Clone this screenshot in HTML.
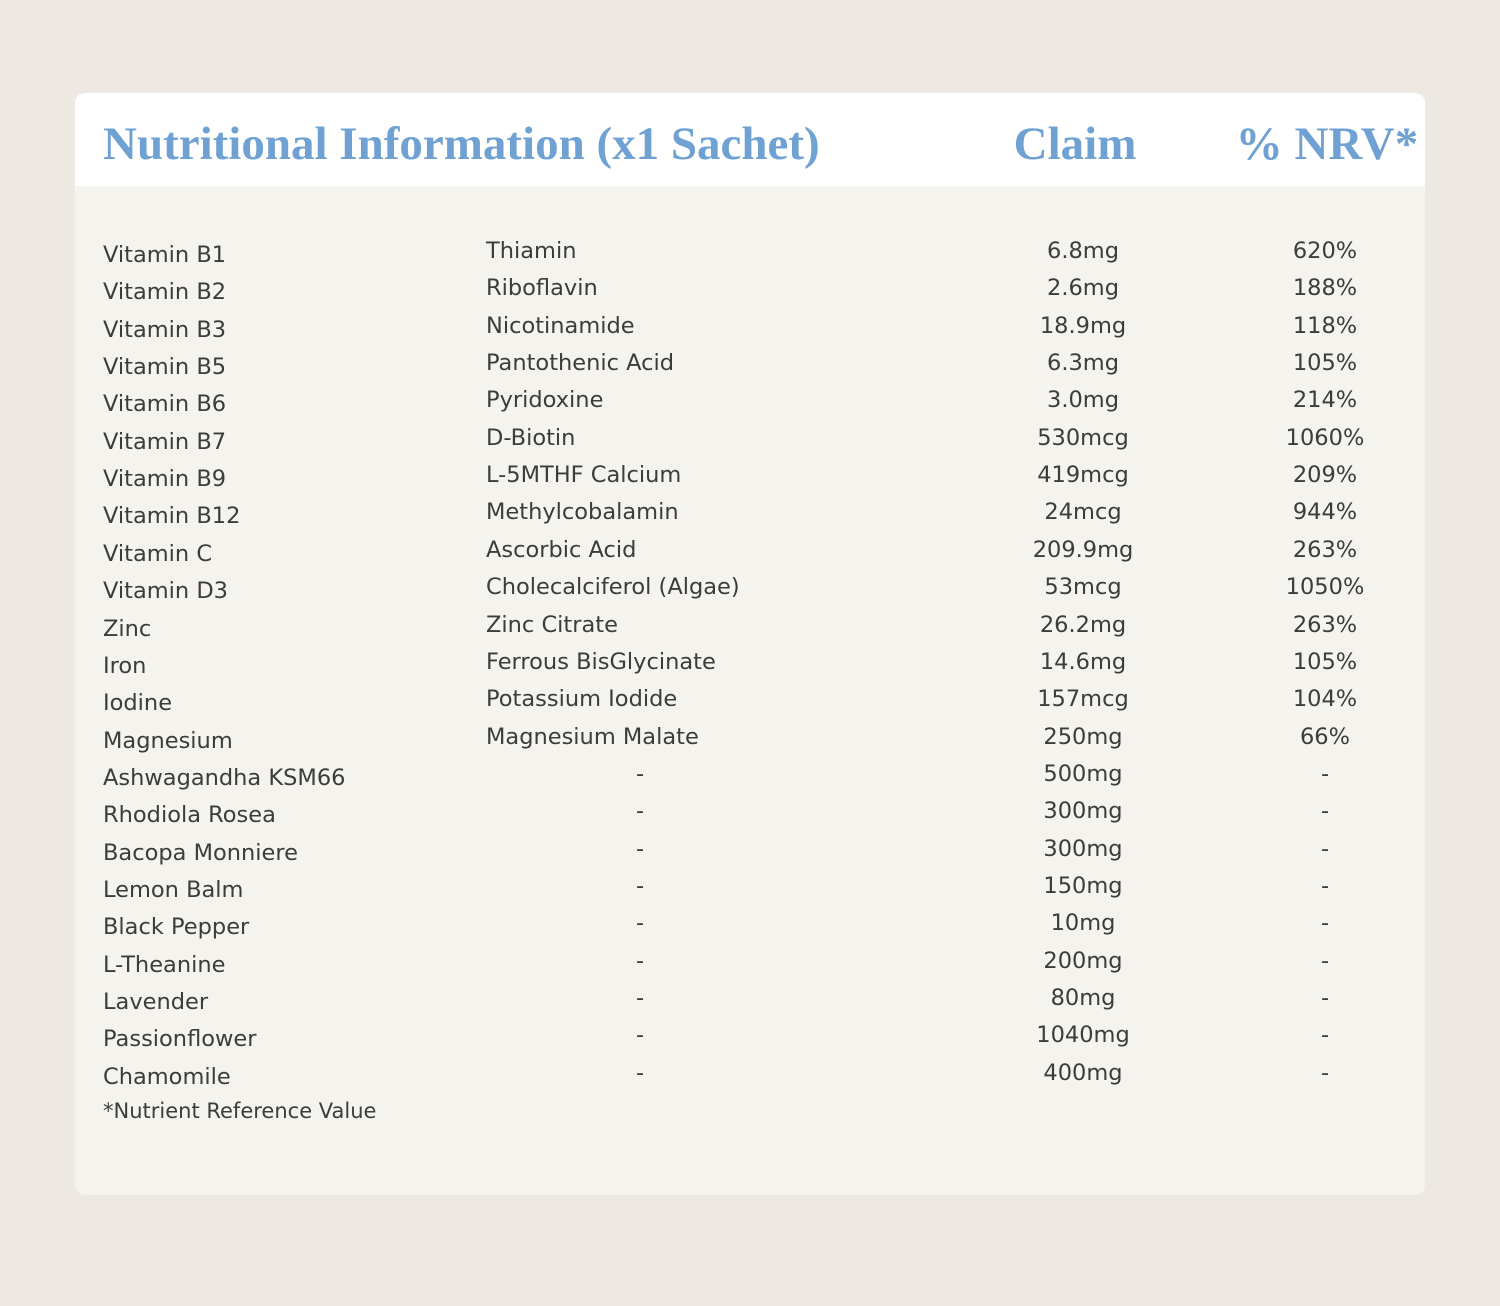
<!DOCTYPE html>
<html><head><meta charset="utf-8"><style>
body{margin:0;width:1500px;height:1306px;background:#ede9e2;position:relative;font-family:"DejaVu Sans","Liberation Sans",sans-serif;color:#3c3c3c;}
.card{position:absolute;left:75px;top:93px;width:1350px;height:1102px;background:#f4f3ee;border-radius:10px;overflow:hidden;}
.hd{position:absolute;left:0;top:0;width:1350px;height:93px;background:#fff;}
.h{position:absolute;font-family:"Liberation Serif",serif;font-weight:bold;color:#6fa1d3;font-size:47px;line-height:47px;top:28px;white-space:nowrap;}
.t{position:absolute;font-size:22.5px;line-height:26px;white-space:nowrap;}
.c{transform:translateX(-50%);}
.f{position:absolute;left:103px;top:1099px;font-size:21px;white-space:nowrap;}
</style></head><body>
<div class="card"><div class="hd">
<div class="h" style="left:28px">Nutritional Information (x1 Sachet)</div>
<div class="h" style="left:1000px;transform:translateX(-50%)">Claim</div>
<div class="h" style="left:1252px;transform:translateX(-50%)">% NRV*</div>
</div></div>
<div id="rows"></div>
<div class="f">*Nutrient Reference Value</div>
<script>
var d=[["Vitamin B1","Thiamin","6.8mg","620%"],["Vitamin B2","Riboflavin","2.6mg","188%"],["Vitamin B3","Nicotinamide","18.9mg","118%"],["Vitamin B5","Pantothenic Acid","6.3mg","105%"],["Vitamin B6","Pyridoxine","3.0mg","214%"],["Vitamin B7","D-Biotin","530mcg","1060%"],["Vitamin B9","L-5MTHF Calcium","419mcg","209%"],["Vitamin B12","Methylcobalamin","24mcg","944%"],["Vitamin C","Ascorbic Acid","209.9mg","263%"],["Vitamin D3","Cholecalciferol (Algae)","53mcg","1050%"],["Zinc","Zinc Citrate","26.2mg","263%"],["Iron","Ferrous BisGlycinate","14.6mg","105%"],["Iodine","Potassium Iodide","157mcg","104%"],["Magnesium","Magnesium Malate","250mg","66%"],["Ashwagandha KSM66","-","500mg","-"],["Rhodiola Rosea","-","300mg","-"],["Bacopa Monniere","-","300mg","-"],["Lemon Balm","-","150mg","-"],["Black Pepper","-","10mg","-"],["L-Theanine","-","200mg","-"],["Lavender","-","80mg","-"],["Passionflower","-","1040mg","-"],["Chamomile","-","400mg","-"]];
var h="";d.forEach(function(r,i){var y=255+i*37.35-13,y2=y-4;
h+='<div class="t" style="left:103px;top:'+y+'px">'+r[0]+'</div>';
if(r[1]=="-")h+='<div class="t c" style="left:640px;top:'+y2+'px">-</div>';else h+='<div class="t" style="left:486px;top:'+y2+'px">'+r[1]+'</div>';
h+='<div class="t c" style="left:1083px;top:'+y2+'px">'+r[2]+'</div>';
h+='<div class="t c" style="left:1325px;top:'+y2+'px">'+r[3]+'</div>';});
document.getElementById("rows").innerHTML=h;
</script>
</body></html>
